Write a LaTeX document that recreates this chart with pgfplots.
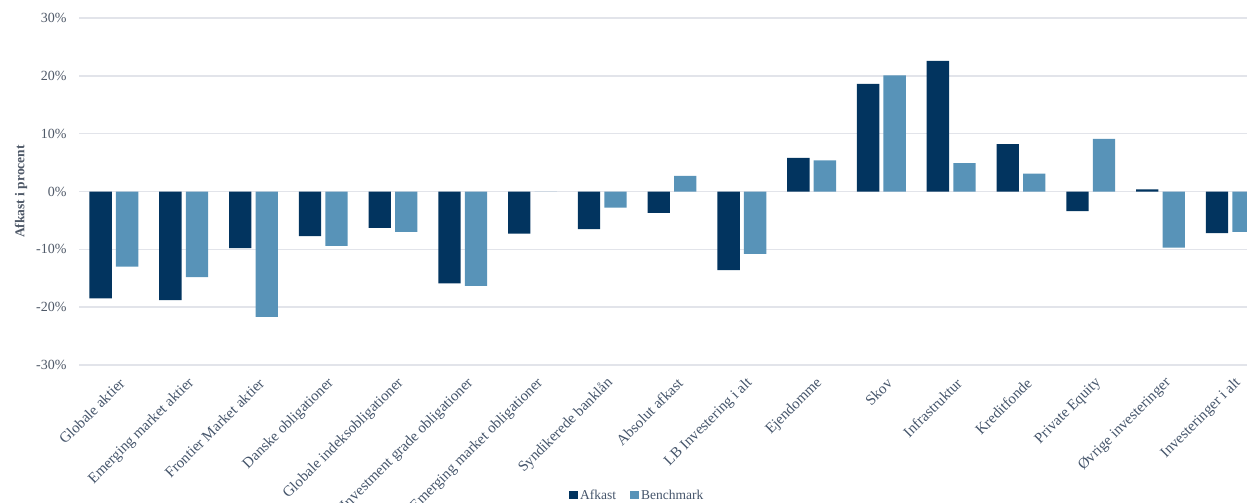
\documentclass[border=0pt]{standalone}
\usepackage{fontspec}
\setmainfont{Liberation Serif}
\usepackage{pgfplots}
\pgfplotsset{compat=1.18}
\definecolor{afk}{HTML}{02345F}
\definecolor{bench}{HTML}{5893B8}
\definecolor{gridc}{HTML}{E2E4EA}
\definecolor{txt}{HTML}{44546A}
\definecolor{tick}{HTML}{4F5968}
\begin{document}
\begin{tikzpicture}
\begin{axis}[
  scale only axis, width=1168pt, height=347pt,
  xmin=-0.5, xmax=16.24, ymin=-30, ymax=30,
  ytick={-30,-20,...,30},
  yticklabel={\pgfmathprintnumber{\tick}\%},
  /pgf/number format/assume math mode=true,
  ybar, bar width=0.32,
  axis line style={draw=none}, tick style={draw=none},
  ymajorgrids, grid style={gridc, line width=1.5pt},
  ylabel={Afkast i procent},
  ylabel style={at={(axis description cs:-0.0497,0.5)}, anchor=center, font=\fontsize{13.5}{15}\selectfont\bfseries, color=tick},
  yticklabel style={font=\fontsize{14}{16}\selectfont, color=tick, xshift=-9pt},
  xtick={0,...,16},
  xticklabels={Globale aktier, Emerging market aktier, Frontier Market aktier, Danske obligationer, Globale indeksobligationer, Investment grade obligationer, Emerging market obligationer, Syndikerede banklån, Absolut afkast, LB Investering  i alt, Ejendomme, Skov, Infrastruktur, Kreditfonde, Private Equity, Øvrige investeringer, Investeringer i alt},
  xticklabel style={rotate=45, anchor=east, font=\fontsize{15}{17}\selectfont, color=txt, yshift=-14pt, xshift=1pt},
  legend style={at={(axis description cs:0.478,-0.375)}, anchor=center, draw=none, fill=none, legend columns=2, font=\fontsize{13.5}{15}\selectfont, text=txt, /tikz/every even column/.append style={column sep=12pt}},
  legend image code/.code={\fill[#1] (2pt,-4pt) rectangle (11pt,4.5pt);},
]
\addplot[fill=afk, draw=none, bar shift=-0.19] coordinates {
(0,-18.5) (1,-18.8) (2,-9.8) (3,-7.7) (4,-6.3) (5,-15.9) (6,-7.3) (7,-6.5) (8,-3.7) (9,-13.6) (10,5.8) (11,18.6) (12,22.6) (13,8.2) (14,-3.4) (15,0.35) (16,-7.2)};
\addplot[fill=bench, draw=none, bar shift=0.19] coordinates {
(0,-13.0) (1,-14.8) (2,-21.7) (3,-9.4) (4,-7.0) (5,-16.3) (6,0) (7,-2.8) (8,2.7) (9,-10.8) (10,5.4) (11,20.1) (12,4.9) (13,3.1) (14,9.1) (15,-9.7) (16,-7.0)};
\legend{Afkast, Benchmark}
\end{axis}
\pgfresetboundingbox
\useasboundingbox (-79pt,-138pt) rectangle (1168pt,365pt);
\end{tikzpicture}
\end{document}
